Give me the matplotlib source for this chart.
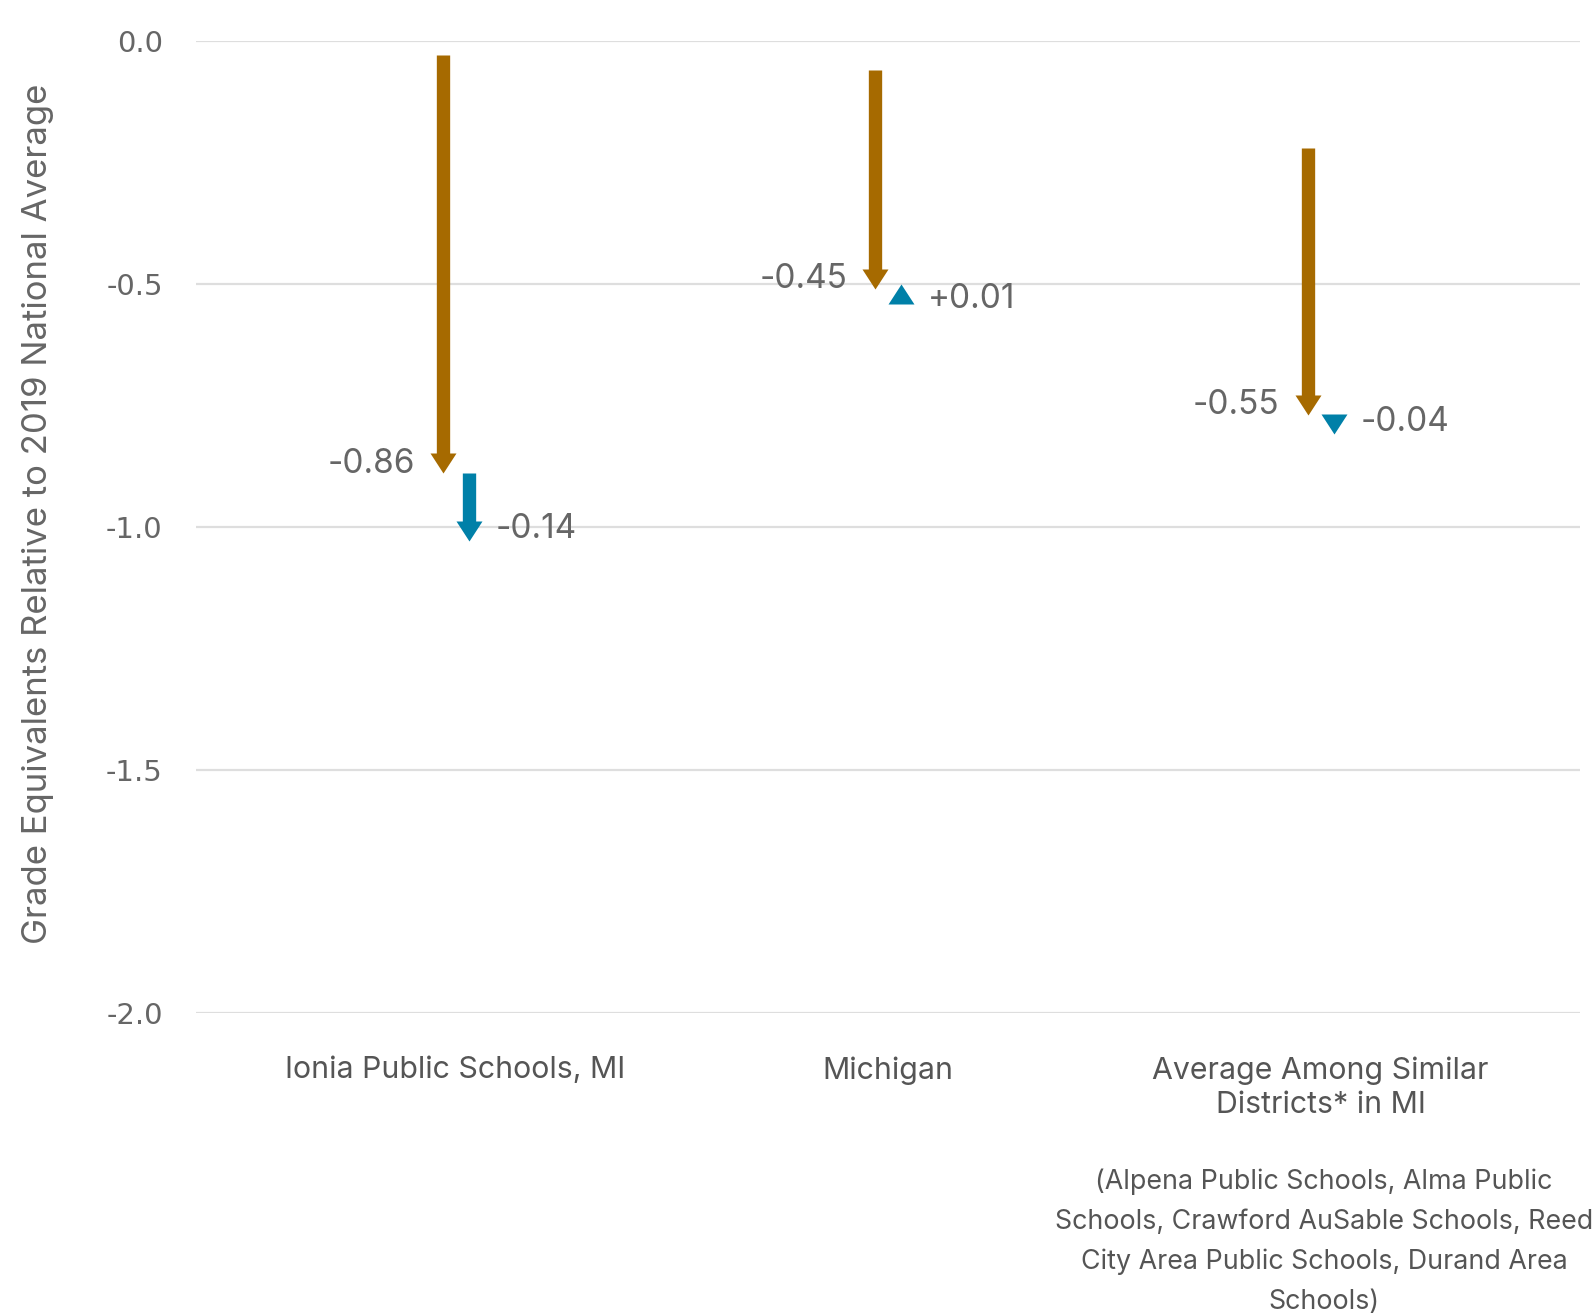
import matplotlib
matplotlib.use("Agg")
import matplotlib.pyplot as plt
from matplotlib.path import Path
import numpy as np

plt.rcParams['font.family'] = ['Inter', 'DejaVu Sans']

# ---- data ----
categories = ["Ionia Public Schools, MI", "Michigan", "Average Among Similar\nDistricts* in MI"]
start = [-0.03, -0.06, -0.22]
change1 = [-0.86, -0.45, -0.55]
change2 = [-0.14, 0.01, -0.04]
yticks = [0.0, -0.5, -1.0, -1.5, -2.0]
ytick_labels = ["0.0", "-0.5", "-1.0", "-1.5", "-2.0"]
ylabel = "Grade Equivalents Relative to 2019 National Average"
footnote = ("(Alpena Public Schools, Alma Public\nSchools, Crawford AuSable Schools, Reed\n"
            "City Area Public Schools, Durand Area\nSchools)")

BROWN = "#A66A00"
BLUE = "#0080A8"
TEXT = "#666666"

W, H = 1595, 1315
fig = plt.figure(figsize=(W / 100, H / 100), dpi=100)
left, right = 196 / W, 1580 / W
top, bottom = 1 - 40.7 / H, 1 - 1013 / H
ax = fig.add_axes([left, bottom, right - left, top - bottom])

ax.set_ylim(-2.0, 0.0)
ax.set_xlim(-0.6, 2.6)
ax.set_yticks(yticks)
ax.set_yticklabels(ytick_labels, fontfamily="DejaVu Sans")
ax.yaxis.grid(True, color="#dedede", lw=1.6)
ax.set_axisbelow(True)
for s in ax.spines.values():
    s.set_visible(False)
ax.tick_params(axis="y", length=0, pad=24, labelsize=21, labelcolor=TEXT)
x = np.arange(len(categories))
ax.set_xticks(x)
xlabels = ax.set_xticklabels(categories)
for t in xlabels:
    t.set_linespacing(1.3)
ax.tick_params(axis="x", length=0, pad=31, labelsize=21.8, labelcolor="#555555")

fig.text(38 / W, 1 - 514 / H, ylabel, rotation=90, ha="center", va="center",
         fontsize=25, color=TEXT)
fig.text(1324 / W, 1 - 1242 / H, footnote, ha="center", va="center",
         fontsize=19.3, color="#555555", linespacing=1.68)

# arrow geometry (points)
HEAD_W = 18.7
HEAD_L = 14.4
SHAFT_W = 9.6
ax_h_px = H * (top - bottom)
px_per_unit = ax_h_px / 2.0
head_data = HEAD_L * 100 / 72 / px_per_unit

def head_marker(direction):
    s = 1 if direction < 0 else -1
    verts = [(-HEAD_W / 2, s * HEAD_L), (HEAD_W / 2, s * HEAD_L), (0, 0), (-HEAD_W / 2, s * HEAD_L)]
    codes = [Path.MOVETO, Path.LINETO, Path.LINETO, Path.CLOSEPOLY]
    return Path(verts, codes)

def draw_arrow(xp, y0, y1, color):
    d = np.sign(y1 - y0)
    shaft_end = y1 - d * head_data * 0.6
    if (shaft_end - y0) * d > 0:
        ax.plot([xp, xp], [y0, shaft_end], color=color, lw=SHAFT_W, solid_capstyle="butt", zorder=3)
    ax.plot([xp], [y1], marker=head_marker(d), markersize=2 * HEAD_L, color=color,
            markeredgewidth=0, linestyle="none", zorder=4)
    return d

for i in range(len(categories)):
    y0 = start[i]
    y1 = start[i] + change1[i]
    y2 = y1 + change2[i]
    xb = x[i] - 0.03
    xc = x[i] + 0.031
    d1 = draw_arrow(xb, y0, y1, BROWN)
    ax.annotate(f"{change1[i]:.2f}", (xb, y1), xytext=(-20, 7 if d1 < 0 else -11),
                textcoords="offset points", ha="right", va="center", fontsize=24, color=TEXT)
    d2 = draw_arrow(xc, y1, y2, BLUE)
    ax.annotate(f"{change2[i]:+.2f}", (xc, y2), xytext=(19, 9 if d2 < 0 else -11),
                textcoords="offset points", ha="left", va="center", fontsize=24, color=TEXT)

fig.savefig("out.png", dpi=100, facecolor="white")
